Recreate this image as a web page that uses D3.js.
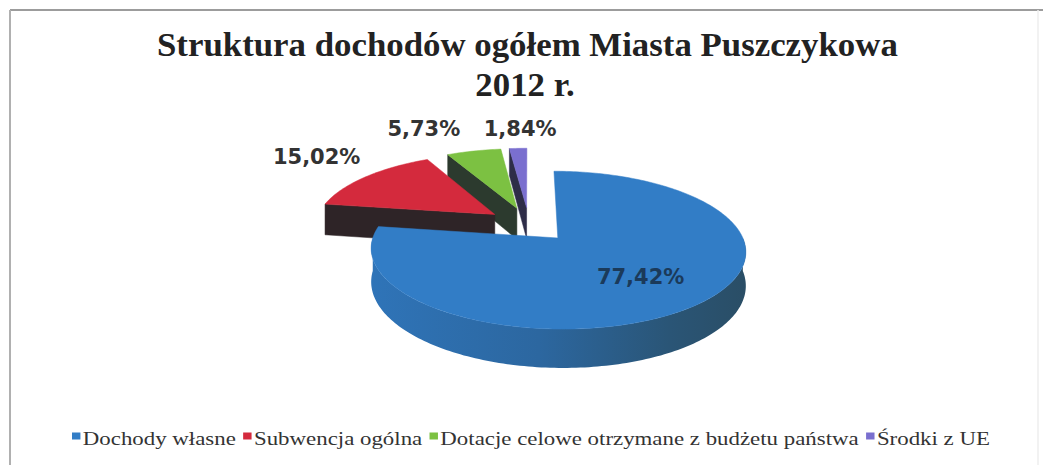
<!DOCTYPE html>
<html>
<head>
<meta charset="utf-8">
<script src="https://cdn.jsdelivr.net/npm/d3@7"></script>
<style>
  html, body { margin: 0; padding: 0; background: #fff; }
  svg { display: block; }
</style>
</head>
<body>
<svg id="chart" width="1043" height="465"></svg>
<script>
// ---- data ----
const categories = ["Dochody własne", "Subwencja ogólna", "Dotacje celowe otrzymane z budżetu państwa", "Środki z UE"];
const values = [77.42, 15.02, 5.73, 1.84];
const valueLabels = ["77,42%", "15,02%", "5,73%", "1,84%"];
const titleLines = ["Struktura dochodów ogółem Miasta Puszczykowa", "2012 r."];

// ---- styles ----
const topColors = ["#327dc6", "#d42a3d", "#7cc142", "#7a6fcf"];
const sideColors = ["#2b5f8c", "#2e2427", "#2c3a2e", "#2e2d48"];

const W = 1043, H = 465;
const svg = d3.select("#chart");

// frame
svg.append("line").attr("x1", 10).attr("y1", 10).attr("x2", W).attr("y2", 10)
  .attr("stroke", "#9c9c9c").attr("stroke-width", 2);
svg.append("line").attr("x1", 10).attr("y1", 10).attr("x2", 10).attr("y2", H)
  .attr("stroke", "#b0b0b0").attr("stroke-width", 2);
svg.append("line").attr("x1", 1038).attr("y1", 10).attr("x2", 1038).attr("y2", H)
  .attr("stroke", "#eee").attr("stroke-width", 1.5);

// title
const title = svg.append("g");
const t1 = title.append("text").text(titleLines[0])
  .attr("font-family", "'Liberation Serif', 'Times New Roman', serif")
  .attr("font-weight", "bold").attr("font-size", 34).attr("fill", "#222");
const w1 = t1.node().getComputedTextLength();
const sx1 = 741 / w1;
t1.attr("transform", `translate(157,56) scale(${sx1},1)`);
const t2 = title.append("text").text(titleLines[1])
  .attr("font-family", "'Liberation Serif', 'Times New Roman', serif")
  .attr("font-weight", "bold").attr("font-size", 34).attr("fill", "#222");
const w2 = t2.node().getComputedTextLength();
t2.attr("transform", `translate(${525 - w2 * sx1 / 2},96) scale(${sx1},1)`);

// ---- 3D pie geometry ----
const cx = 529, cy = 224.4, R = 180, tilt = 0.405, focal = 1200, depthH = 32, explode = 43;
const pie = d3.pie().sort(null).value(d => d);
const arcs = pie(values);

function proj(X, D, hgt) {
  const s = focal / (focal + D);
  return [cx + X * s, cy - D * tilt * s + hgt * s];
}
function dir(a) { return [Math.sin(a), Math.cos(a)]; }

const defs = svg.append("defs");
const grad = defs.append("linearGradient").attr("id", "blueSide")
  .attr("gradientUnits", "userSpaceOnUse")
  .attr("x1", 370).attr("y1", 0).attr("x2", 745).attr("y2", 0);
grad.append("stop").attr("offset", "0%").attr("stop-color", "#2f74b8");
grad.append("stop").attr("offset", "45%").attr("stop-color", "#2c67a0");
grad.append("stop").attr("offset", "80%").attr("stop-color", "#2a5576");
grad.append("stop").attr("offset", "100%").attr("stop-color", "#2a4e66");

const slices = arcs.map((a, i) => {
  const mid = (a.startAngle + a.endAngle) / 2;
  const [dx, dd] = dir(mid);
  return { i, a0: a.startAngle, a1: a.endAngle, mid, ox: dx * explode, od: dd * explode };
});

const line = d3.line();
const order = slices.slice().sort((p, q) => q.od - p.od);
const pieG = svg.append("g");

function arcPts(s, b0, b1, hgt) {
  const n = Math.max(2, Math.ceil((b1 - b0) / 0.02));
  const pts = [];
  for (let k = 0; k <= n; k++) {
    const ang = b0 + (b1 - b0) * k / n;
    const [ux, ud] = dir(ang);
    pts.push(proj(s.ox + R * ux, s.od + R * ud, hgt));
  }
  return pts;
}

order.forEach(s => {
  const g = pieG.append("g");
  const side = s.i === 0 ? "url(#blueSide)" : sideColors[s.i];
  const apexT = proj(s.ox, s.od, 0), apexB = proj(s.ox, s.od, depthH);
  // radial walls
  [[s.a0, Math.sin(s.a0) < -1e-6], [s.a1, Math.sin(s.a1) > 1e-6]].forEach(([ang, vis]) => {
    if (!vis) return;
    const [ux, ud] = dir(ang);
    const oT = proj(s.ox + R * ux, s.od + R * ud, 0);
    const oB = proj(s.ox + R * ux, s.od + R * ud, depthH);
    g.append("path").attr("d", line([apexT, oT, oB, apexB]) + "Z")
      .attr("fill", sideColors[s.i]).attr("stroke", sideColors[s.i]).attr("stroke-width", 0.5);
  });
  // outer wall (front-facing part: 90°..270°)
  const b0 = Math.max(s.a0, Math.PI / 2), b1 = Math.min(s.a1, 3 * Math.PI / 2);
  if (b1 > b0) {
    const top = arcPts(s, b0, b1, 0);
    const bot = arcPts(s, b0, b1, depthH).reverse();
    g.append("path").attr("d", line(top.concat(bot)) + "Z")
      .attr("fill", side).attr("stroke", "none");
  }
  // top face
  const topPts = [apexT].concat(arcPts(s, s.a0, s.a1, 0));
  g.append("path").attr("d", line(topPts) + "Z")
    .attr("fill", topColors[s.i]).attr("stroke", topColors[s.i]).attr("stroke-width", 0.5);
});

// ---- data labels ----
const labelNudge = [[0, 0], [-49, -20], [-50, -22], [2, -19]];
const labelG = svg.append("g");
slices.forEach(s => {
  const [ux, ud] = dir(s.mid);
  let p;
  if (s.i === 0) {
    p = proj(s.ox + 0.62 * R * ux, s.od + 0.62 * R * ud, 0);
  } else {
    const o = proj(s.ox + R * ux, s.od + R * ud, 0);
    p = [o[0] + labelNudge[s.i][0], o[1] + labelNudge[s.i][1]];
  }
  labelG.append("text").text(valueLabels[s.i])
    .attr("x", p[0]).attr("y", p[1])
    .attr("text-anchor", "middle").attr("dominant-baseline", "central")
    .attr("font-family", "'DejaVu Sans', Verdana, sans-serif").attr("font-weight", "bold")
    .attr("font-size", 21).attr("fill", s.i === 0 ? "#1b3a5a" : "#333");
});

// ---- legend ----
const legG = svg.append("g");
const legFont = 19;
const items = [];
categories.forEach((c, i) => {
  const t = legG.append("text").text(c)
    .attr("font-family", "'Liberation Serif', 'Times New Roman', serif")
    .attr("font-size", legFont).attr("fill", "#333").attr("y", 445);
  items.push(t);
});
const widths = items.map(t => t.node().getComputedTextLength());
const sq = 7, sqGap = 2, itemGap = 6;
const total = d3.sum(widths) + categories.length * (sq + sqGap) + (categories.length - 1) * itemGap;
const lsx = (990 - 72) / total;
legG.attr("transform", `translate(72,0) scale(${lsx},1)`);
let lx = 0;
categories.forEach((c, i) => {
  legG.append("rect").attr("x", lx).attr("y", 432.5).attr("width", sq).attr("height", sq)
    .attr("fill", topColors[i]);
  items[i].attr("x", lx + sq + sqGap);
  lx += sq + sqGap + widths[i] + itemGap;
});
</script>
</body>
</html>
